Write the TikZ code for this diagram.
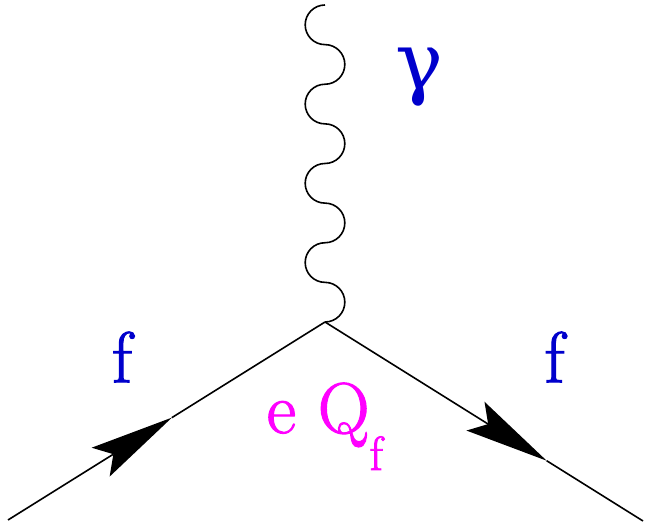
\documentclass[tikz,border=0pt]{standalone}
\usepackage{fontspec}
\newfontfamily\gfont{DejaVu Serif}
\newfontfamily\tms{Latin Modern Roman}[FakeBold=1.5]
\usetikzlibrary{arrows.meta}
\definecolor{fblue}{RGB}{0,0,204}
\definecolor{fmag}{RGB}{255,0,255}
\begin{document}
\begin{tikzpicture}[x=1pt,y=1pt,line width=1.6pt,
  fermion/.style={draw=black},
  bigtip/.style={-{Stealth[length=84pt,width=34pt,inset=15pt,line width=0pt]}},
  lbl/.style={text=fblue,inner sep=0pt,font=\tms\fontsize{72}{72}\selectfont},
  coup/.style={text=fmag,inner sep=0pt,font=\tms\fontsize{72}{72}\selectfont}]
\useasboundingbox (0,0) rectangle (652,529);
\coordinate (a) at (8,9);
\coordinate (v) at (325,207);
\coordinate (b) at (643,8);
\coordinate (g) at (325,524);
\path (a) -- (v) coordinate[pos=0.517] (tl);
\path (v) -- (b) coordinate[pos=0.697] (tr);
% fermion lines
\draw[fermion,bigtip] (a) -- (tl);
\draw[fermion] (tl) -- (v);
\draw[fermion,bigtip] (v) -- (tr);
\draw[fermion] (tr) -- (b);
% photon
\def\rr{19.8125}
\draw (v) arc (-90:90:\rr) arc (270:90:\rr)
          arc (-90:90:\rr) arc (270:90:\rr)
          arc (-90:90:\rr) arc (270:90:\rr)
          arc (-90:90:\rr) arc (270:90:\rr);
% labels
\node[lbl,font=\gfont\fontsize{80}{80}\selectfont] (gam) at (419,451.5) {γ};
\node[lbl] (fl) at (122,172) {f};
\node[lbl] (fr) at (554.5,172) {f};
\node[coup,anchor=base west] (eq) at (266,96) {e Q\raisebox{-37pt}{\tms\fontsize{48}{48}\selectfont f}};
\end{tikzpicture}
\end{document}
